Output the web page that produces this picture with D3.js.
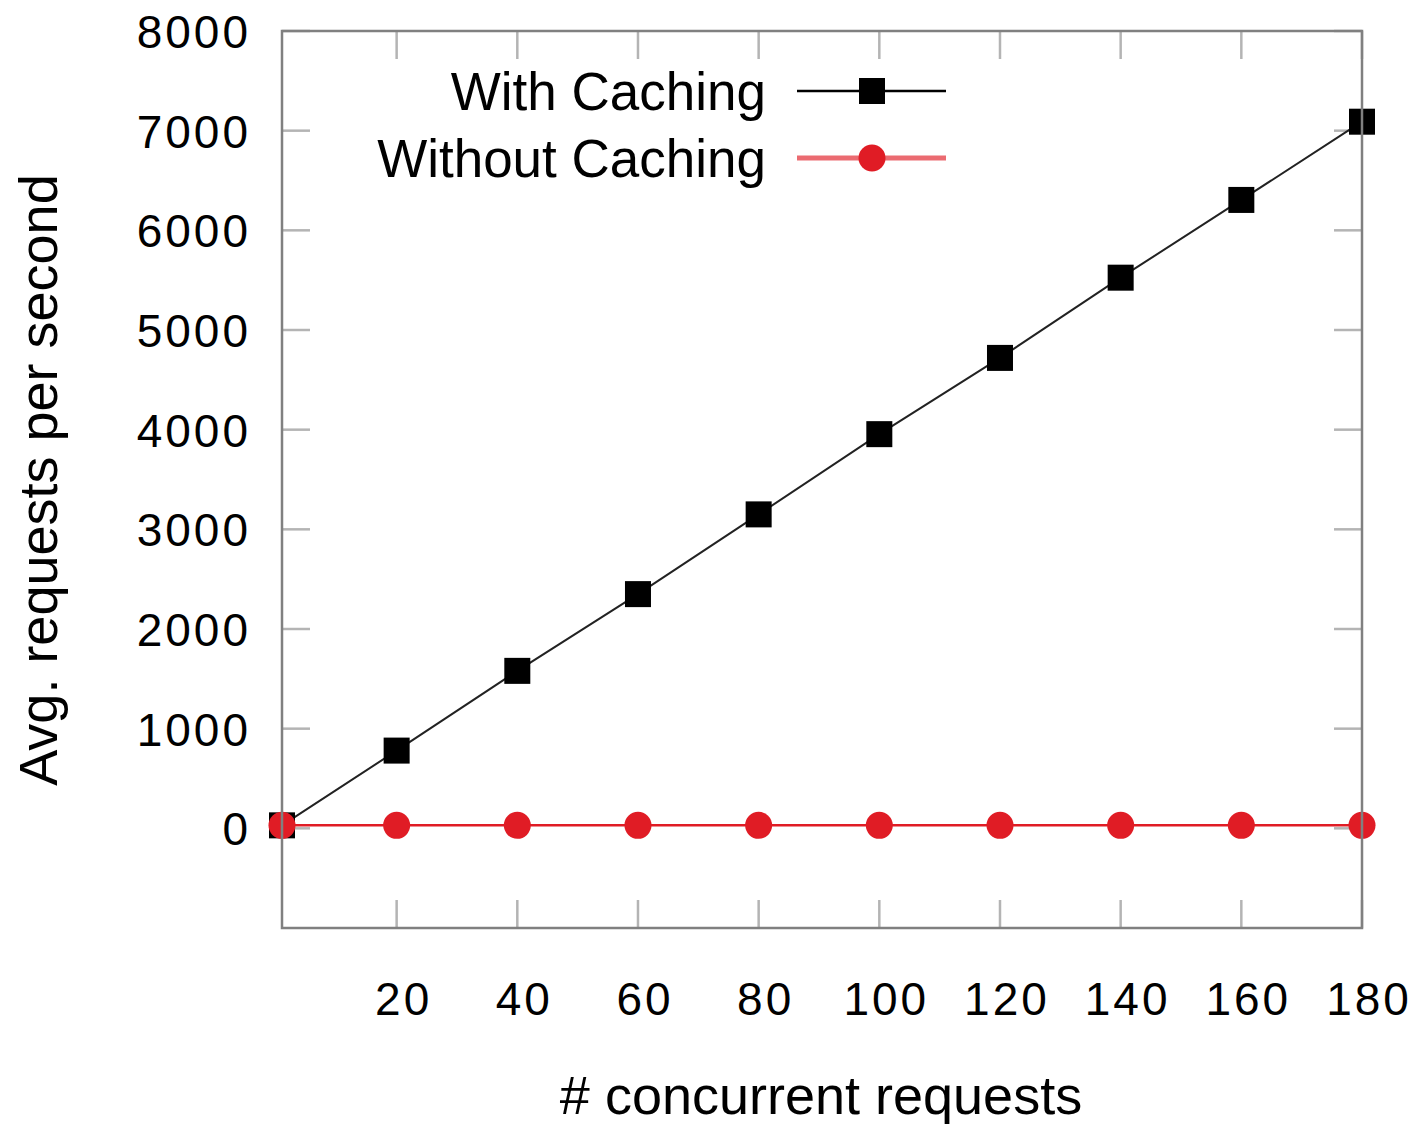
<!DOCTYPE html>
<html>
<head>
<meta charset="utf-8">
<script src="https://cdn.jsdelivr.net/npm/d3@7"></script>
<style>
  body { margin: 0; background: #fff; }
  text { font-family: "Liberation Sans", Arial, sans-serif; fill: #000; }
</style>
</head>
<body>
<svg class="chart"></svg>
<script>
// DATA /////////////////////////////////
const concurrency = [1, 20, 40, 60, 80, 100, 120, 140, 160, 180];
const withCaching = [30, 780, 1580, 2350, 3150, 3955, 4720, 5525, 6305, 7090];
const withoutCaching = [30, 30, 30, 30, 30, 30, 30, 30, 30, 30];
const xTicks = [20, 40, 60, 80, 100, 120, 140, 160, 180];
const yTicks = [0, 1000, 2000, 3000, 4000, 5000, 6000, 7000, 8000];
const seriesNames = ["With Caching", "Without Caching"];

// DEFINITIONS //////////////////////////
const W = 1417, H = 1124;
const plot = { left: 282, right: 1362, top: 31, bottom: 928 };
const red = "#e01c25";

const svg = d3.select(".chart").attr("width", W).attr("height", H);

const x = d3.scaleLinear().domain([1, 180]).range([plot.left, plot.right]);
const y = d3.scaleLinear().domain([-1000, 8000]).range([plot.bottom, plot.top]);

// TICKS (inward, on all four sides) ////
const tickLen = 28;
const ticks = svg.append("g").attr("stroke", "#b4b4b4").attr("stroke-width", 2.5);
yTicks.forEach((v) => {
  ticks.append("line").attr("x1", plot.left).attr("x2", plot.left + tickLen)
    .attr("y1", y(v)).attr("y2", y(v));
  ticks.append("line").attr("x1", plot.right - tickLen).attr("x2", plot.right)
    .attr("y1", y(v)).attr("y2", y(v));
});
xTicks.forEach((v) => {
  ticks.append("line").attr("x1", x(v)).attr("x2", x(v))
    .attr("y1", plot.bottom).attr("y2", plot.bottom - tickLen);
  ticks.append("line").attr("x1", x(v)).attr("x2", x(v))
    .attr("y1", plot.top).attr("y2", plot.top + tickLen);
});

// TICK LABELS //////////////////////////
svg.append("g").selectAll("text").data(yTicks).join("text")
  .attr("x", 251)
  .attr("y", (d) => y(d) + 17)
  .attr("text-anchor", "end")
  .style("font-size", "46px")
  .style("letter-spacing", "3px")
  .text((d) => d);

svg.append("g").selectAll("text").data(xTicks).join("text")
  .attr("x", (d) => x(d) + 7)
  .attr("y", 1015)
  .attr("text-anchor", "middle")
  .style("font-size", "46px")
  .style("letter-spacing", "3px")
  .text((d) => d);

// AXIS TITLES //////////////////////////
svg.append("text")
  .attr("x", 821).attr("y", 1114)
  .attr("text-anchor", "middle")
  .style("font-size", "54px")
  .text("# concurrent requests");

svg.append("text")
  .attr("transform", "translate(57, 480) rotate(-90)")
  .attr("text-anchor", "middle")
  .style("font-size", "54px")
  .text("Avg. requests per second");

// SERIES ///////////////////////////////
const line = d3.line().x((d) => x(d[0])).y((d) => y(d[1]));
const cachePts = concurrency.map((c, i) => [c, withCaching[i]]);
const noCachePts = concurrency.map((c, i) => [c, withoutCaching[i]]);

svg.append("path").datum(cachePts)
  .attr("d", line).attr("fill", "none")
  .attr("stroke", "#222").attr("stroke-width", 2);
svg.append("g").selectAll("rect").data(cachePts).join("rect")
  .attr("x", (d) => x(d[0]) - 13).attr("y", (d) => y(d[1]) - 13)
  .attr("width", 26).attr("height", 26).attr("fill", "#000");

svg.append("path").datum(noCachePts)
  .attr("d", line).attr("fill", "none")
  .attr("stroke", red).attr("stroke-width", 2.5);
svg.append("g").selectAll("circle").data(noCachePts).join("circle")
  .attr("cx", (d) => x(d[0])).attr("cy", (d) => y(d[1]))
  .attr("r", 13.5).attr("fill", red);

// FRAME ////////////////////////////////
svg.append("rect")
  .attr("x", plot.left).attr("y", plot.top)
  .attr("width", plot.right - plot.left).attr("height", plot.bottom - plot.top)
  .attr("fill", "none").attr("stroke", "#808080").attr("stroke-width", 2.5);

// LEGEND ///////////////////////////////
const legend = svg.append("g");
const legendRows = [
  { name: seriesNames[0], y: 91, color: "#000", shape: "square", width: 2.5, opacity: 1 },
  { name: seriesNames[1], y: 158, color: red, shape: "circle", width: 5, opacity: 0.65 },
];
legendRows.forEach((r) => {
  legend.append("text")
    .attr("x", 766).attr("y", r.y + 19)
    .attr("text-anchor", "end")
    .style("font-size", "53px")
    .text(r.name);
  legend.append("line")
    .attr("x1", 797).attr("x2", 946).attr("y1", r.y).attr("y2", r.y)
    .attr("stroke", r.color).attr("stroke-width", r.width)
    .attr("stroke-opacity", r.opacity);
  if (r.shape === "square") {
    legend.append("rect")
      .attr("x", 872 - 13).attr("y", r.y - 13)
      .attr("width", 26).attr("height", 26).attr("fill", r.color);
  } else {
    legend.append("circle")
      .attr("cx", 872).attr("cy", r.y).attr("r", 13.5).attr("fill", r.color);
  }
});
</script>
</body>
</html>
